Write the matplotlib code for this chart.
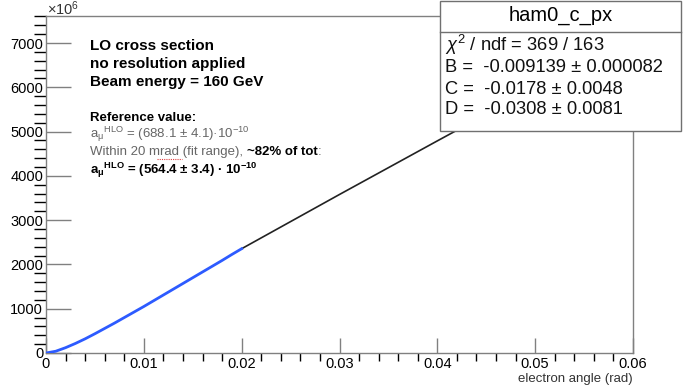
import numpy as np
import matplotlib
matplotlib.use("Agg")
import matplotlib.pyplot as plt
from matplotlib.patches import Rectangle
from matplotlib.lines import Line2D
from matplotlib.ticker import MultipleLocator

plt.rcParams['font.family'] = ['Liberation Sans', 'DejaVu Sans']
plt.rcParams['mathtext.fontset'] = 'custom'
plt.rcParams['mathtext.rm'] = 'Liberation Sans'
plt.rcParams['mathtext.it'] = 'Liberation Sans:italic'
plt.rcParams['mathtext.bf'] = 'Liberation Sans:bold'

# Histogram (cumulative cross section, units of 1e6) within the fit range
angle_hist = [0.000, 0.001, 0.002, 0.003, 0.004, 0.005, 0.006, 0.007, 0.008, 0.009,
              0.010, 0.011, 0.012, 0.013, 0.014, 0.015, 0.016, 0.017, 0.018, 0.019, 0.020]
xsec_hist = [0, 40, 120, 215, 320, 435, 555, 675, 800, 925,
             1050, 1180, 1310, 1440, 1570, 1700, 1830, 1960, 2090, 2225, 2355]

# Fit function drawn beyond the fit range
angle_fit = [0.020, 0.030, 0.040, 0.050, 0.060]
xsec_fit = [2355, 3580, 4790, 5990, 7180]

stats_title = "ham0_c_px"
stats_lines = [r"$\chi^2$ / ndf = 369 / 163",
               "B =  -0.009139 ± 0.000082",
               "C =  -0.0178 ± 0.0048",
               "D =  -0.0308 ± 0.0081"]

W, H = 683, 391
fig = plt.figure(figsize=(W / 100, H / 100), dpi=100)
ax = fig.add_axes([46 / W, 1 - 353 / H, (633 - 46) / W, (353 - 16) / H])

frame_col = '#808080'
ax.plot(angle_fit, xsec_fit, color='#222222', lw=1.2, zorder=2)
ax.plot(angle_hist, xsec_hist, color='#2d5bff', lw=2.0, zorder=3)

ax.set_xlim(0, 0.06)
ax.set_ylim(0, 7610)
ax.xaxis.set_major_locator(MultipleLocator(0.01))
ax.xaxis.set_minor_locator(MultipleLocator(0.002))
ax.yaxis.set_major_locator(MultipleLocator(1000))
ax.yaxis.set_minor_locator(MultipleLocator(200))
ax.set_xticks([0, 0.01, 0.02, 0.03, 0.04, 0.05, 0.06])
ax.set_xticklabels(['0', '0.01', '0.02', '0.03', '0.04', '0.05', '0.06'])
ax.tick_params(axis='both', direction='in', colors=frame_col, labelcolor='black',
               labelsize=10.5)
ax.tick_params(axis='y', which='major', length=18, width=1, pad=2)
ax.tick_params(axis='y', which='minor', length=9, width=1)
ax.tick_params(axis='x', which='major', length=11, width=1, pad=3)
ax.tick_params(axis='x', which='minor', length=6, width=1)
for s in ax.spines.values():
    s.set_color(frame_col)
    s.set_linewidth(1)

fig.text(47 / W, 1 - 9 / H, r"$\times10^{6}$", fontsize=10.5, ha='left', va='center',
         color='#333333')
fig.text(633 / W, 1 - 379 / H, "electron angle (rad)", fontsize=9.5, ha='right',
         va='center', color='#333333')

# Annotation block
for i, t in enumerate(["LO cross section", "no resolution applied",
                       "Beam energy = 160 GeV"]):
    fig.text(90 / W, 1 - (46 + 18 * i) / H, t, fontsize=11, fontweight='bold',
             ha='left', va='center')
fig.text(90 / W, 1 - 118 / H, "Reference value:", fontsize=9.5, fontweight='bold',
         ha='left', va='center')
fig.text(90 / W, 1 - 134 / H,
         r"a$_\mathregular{\mu}$$^\mathregular{HLO}$ = (688.1 ± 4.1)·10$^\mathregular{-10}$",
         fontsize=9.5, ha='left', va='center', color='#666666')
t1 = fig.text(90 / W, 1 - 152 / H, "Within 20 mrad (fit range), ", fontsize=9.5,
              ha='left', va='center', color='#666666')
fig.canvas.draw()
bb = t1.get_window_extent()
t2 = fig.text(bb.x1 / W, 1 - 152 / H, "~82% of tot", fontsize=9.5, fontweight='bold',
              ha='left', va='center')
bb2 = t2.get_window_extent()
fig.text(bb2.x1 / W, 1 - 152 / H, ":", fontsize=9.5, ha='left', va='center',
         color='#666666')
fig.add_artist(Line2D([157 / W, 182 / W], [1 - 159 / H, 1 - 159 / H], color='#e04040',
                      lw=0.8, ls=(0, (1, 1))))
fig.text(90 / W, 1 - 170 / H,
         r"$\mathbf{a_{\mu}}$$\mathbf{^{HLO}}$ = (564.4 ± 3.4) · 10$^\mathbf{-10}$",
         fontsize=9.5, fontweight='bold', ha='left', va='center')

# Fit statistics box
box_x0, box_x1, box_y0, box_y1 = 440, 681, 1, 131
fig.add_artist(Rectangle((box_x0 / W, 1 - box_y1 / H), (box_x1 - box_x0) / W,
                         (box_y1 - box_y0) / H, transform=fig.transFigure,
                         facecolor='white', edgecolor='#707070', lw=1, zorder=5))
fig.add_artist(Line2D([box_x0 / W, box_x1 / W], [1 - 32 / H, 1 - 32 / H],
                      color='#707070', lw=1, zorder=6))
fig.text((box_x0 + box_x1) / 2 / W, 1 - 15 / H, stats_title, fontsize=14.5,
         ha='center', va='center', zorder=7)
for i, (t, y) in enumerate(zip(stats_lines, [45, 68, 89, 110])):
    fig.text(445 / W, 1 - y / H, t, fontsize=13.2, ha='left', va='center',
             zorder=7, color='#111111')

fig.savefig("out.png", dpi=100)
